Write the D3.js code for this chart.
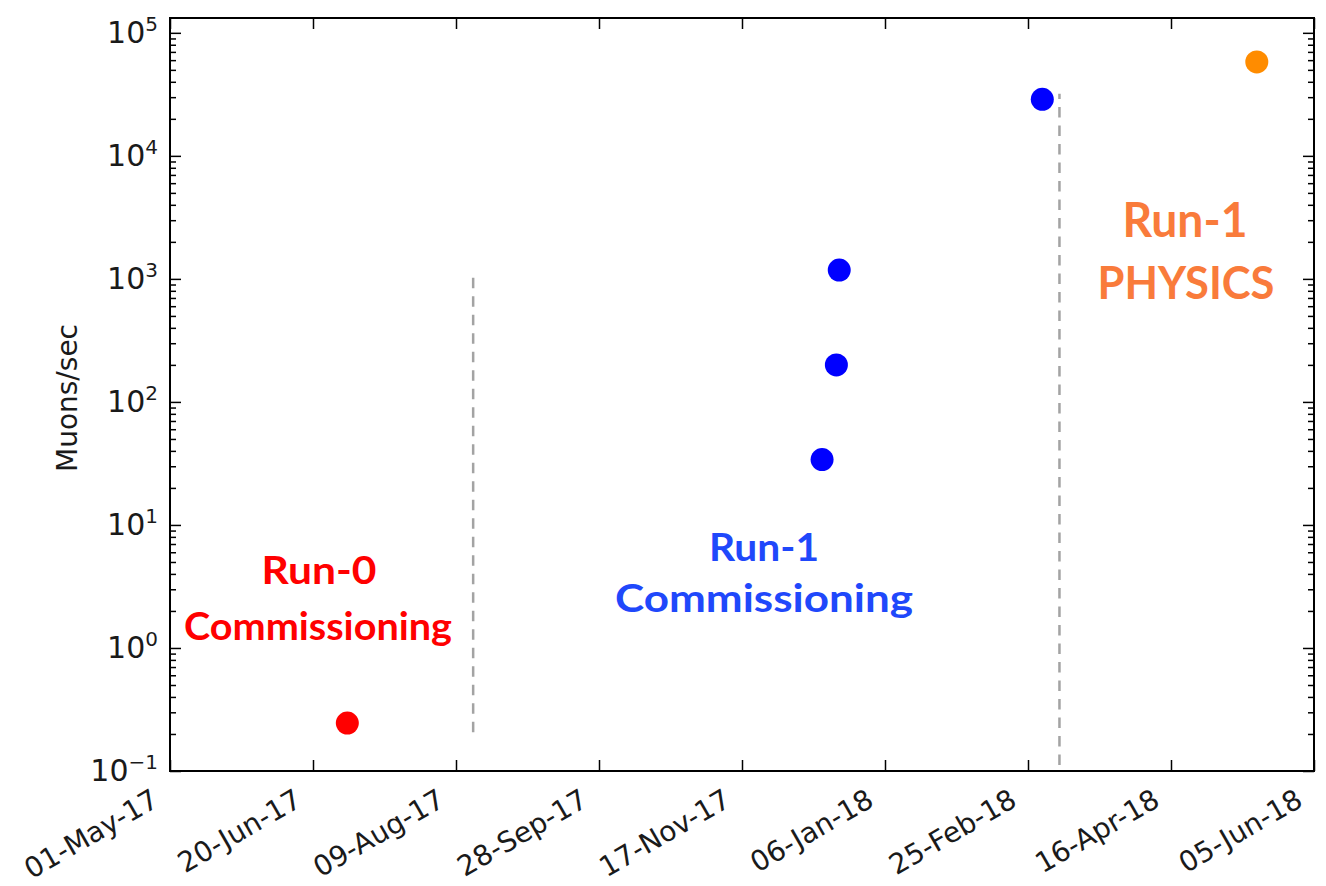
<!DOCTYPE html>
<html lang="en">
<head>
<meta charset="utf-8">
<title>Muons/sec by run</title>
<script src="https://d3js.org/d3.v7.min.js"></script>
<style>
  body { margin: 0; background: #fff; }
  .axis text { font-family: "DejaVu Sans", sans-serif; font-size: 28px; fill: #1a1a1a; }
  .axis line { stroke: #000; stroke-width: 1.5; }
  .axis path { display: none; }
  .note { font-family: Lato, "Open Sans", sans-serif; font-weight: bold; text-anchor: middle; }
</style>
</head>
<body>
<script>
// --- data ---
const run0Dates = ["2017-07-02"];
const run0Rates = [0.245];

const commDates = ["2017-12-15", "2017-12-20", "2017-12-21", "2018-03-02"];
const commRates = [34, 200, 1180, 28800];

const physDates = ["2018-05-16"];
const physRates = [58000];

// grey dashed separators between the runs
const dividerDates = ["2017-08-15", "2018-03-08"];
const dividerLow = [0.207, 0.112];
const dividerHigh = [1100, 32000];

const xTickDates = ["2017-05-01", "2017-06-20", "2017-08-09", "2017-09-28", "2017-11-17",
                    "2018-01-06", "2018-02-25", "2018-04-16", "2018-06-05"];
const yMajor = [0.1, 1, 10, 100, 1000, 10000, 100000];
const yExponents = ["\u22121", "0", "1", "2", "3", "4", "5"];

// --- layout ---
const w = 1326, h = 886;
const mLeft = 170, mRight = 1314, mTop = 18, mBottom = 771;
const parse = d3.utcParse("%Y-%m-%d");
const fmt = d3.utcFormat("%d-%b-%y");

const x = d3.scaleUtc()
    .domain([parse(xTickDates[0]), parse(xTickDates[xTickDates.length - 1])])
    .range([mLeft, mRight]);

const y = d3.scaleLog()
    .domain([0.1, 132000])
    .range([mBottom, mTop]);

const svg = d3.select("body").append("svg")
    .attr("width", w)
    .attr("height", h);

// dashed dividers
svg.selectAll(".divider")
    .data(dividerDates.map((d, i) => ({ date: parse(d), lo: dividerLow[i], hi: dividerHigh[i] })))
    .join("line")
    .attr("class", "divider")
    .attr("x1", d => x(d.date)).attr("x2", d => x(d.date))
    .attr("y1", d => y(d.lo)).attr("y2", d => y(d.hi))
    .attr("stroke", "#a3a3a3")
    .attr("stroke-width", 2.5)
    .attr("stroke-dasharray", "10.5,8");

// points
function drawPoints(dates, rates, color) {
    svg.append("g").selectAll("circle")
        .data(dates.map((d, i) => ({ date: parse(d), v: rates[i] })))
        .join("circle")
        .attr("cx", d => x(d.date))
        .attr("cy", d => y(d.v))
        .attr("r", 11.5)
        .attr("fill", color);
}
drawPoints(run0Dates, run0Rates, "#ff0000");
drawPoints(commDates, commRates, "#0000ff");
drawPoints(physDates, physRates, "#ff8c00");

// minor ticks on the log axis
const yMinor = y.ticks().filter(v => !yMajor.includes(v));

// left axis, ticks pointing in
const leftAxis = svg.append("g")
    .attr("class", "axis")
    .attr("transform", "translate(" + mLeft + ",0)")
    .call(d3.axisLeft(y).tickValues(yMajor).tickSizeInner(-11).tickSizeOuter(0)
        .tickPadding(12).tickFormat(() => ""));

leftAxis.selectAll(".tick text").each(function (d, i) {
    const t = d3.select(this).attr("dy", "0.31em").style("font-size", "30px");
    t.append("tspan").text("10");
    t.append("tspan").attr("dy", -12).style("font-size", "20px").text(yExponents[i]);
});

svg.append("g")
    .attr("class", "axis")
    .attr("transform", "translate(" + mLeft + ",0)")
    .call(d3.axisLeft(y).tickValues(yMinor).tickSizeInner(-6).tickSizeOuter(0).tickFormat(""));

// right side mirror ticks
svg.append("g")
    .attr("class", "axis")
    .attr("transform", "translate(" + mRight + ",0)")
    .call(d3.axisRight(y).tickValues(yMajor).tickSizeInner(-11).tickSizeOuter(0).tickFormat(""));
svg.append("g")
    .attr("class", "axis")
    .attr("transform", "translate(" + mRight + ",0)")
    .call(d3.axisRight(y).tickValues(yMinor).tickSizeInner(-6).tickSizeOuter(0).tickFormat(""));

// bottom axis with rotated dates
const xTicks = xTickDates.map(parse);
svg.append("g")
    .attr("class", "axis")
    .attr("transform", "translate(0," + mBottom + ")")
    .call(d3.axisBottom(x).tickValues(xTicks).tickSizeInner(-11).tickSizeOuter(0).tickFormat(fmt))
    .selectAll(".tick text")
    .attr("x", 0).attr("y", 0).attr("dy", 0)
    .attr("text-anchor", "end")
    .attr("transform", "translate(-10,34) rotate(-30)");

// top ticks
svg.append("g")
    .attr("class", "axis")
    .attr("transform", "translate(0," + mTop + ")")
    .call(d3.axisTop(x).tickValues(xTicks).tickSizeInner(-11).tickSizeOuter(0).tickFormat(""));

// frame
svg.append("rect")
    .attr("x", mLeft).attr("y", mTop)
    .attr("width", mRight - mLeft).attr("height", mBottom - mTop)
    .attr("fill", "none")
    .attr("stroke", "#000")
    .attr("stroke-width", 2);

// y label
svg.append("text")
    .attr("transform", "translate(77,398) rotate(-90)")
    .attr("text-anchor", "middle")
    .attr("font-family", "DejaVu Sans, sans-serif")
    .attr("font-size", 28)
    .attr("fill", "#1a1a1a")
    .text("Muons/sec");

// run annotations
const notes = [
    { text: "Run-0", cx: 319, y: 584, size: 37.5, len: 115, color: "#ff0000" },
    { text: "Commissioning", cx: 318, y: 640, size: 37.5, len: 268, color: "#ff0000" },
    { text: "Run-1", cx: 764, y: 561, size: 37.5, len: 110, color: "#1f48fb" },
    { text: "Commissioning", cx: 764, y: 612, size: 37.5, len: 298, color: "#1f48fb" },
    { text: "Run-1", cx: 1185, y: 237, size: 47, len: 125, color: "#f97b3b" },
    { text: "PHYSICS", cx: 1186, y: 299, size: 46, len: 177, color: "#f97b3b" }
];
svg.selectAll(".note")
    .data(notes)
    .join("text")
    .attr("class", "note")
    .attr("x", d => d.cx)
    .attr("y", d => d.y)
    .attr("font-size", d => d.size)
    .attr("textLength", d => d.len)
    .attr("lengthAdjust", "spacingAndGlyphs")
    .attr("fill", d => d.color)
    .text(d => d.text);
</script>
</body>
</html>
